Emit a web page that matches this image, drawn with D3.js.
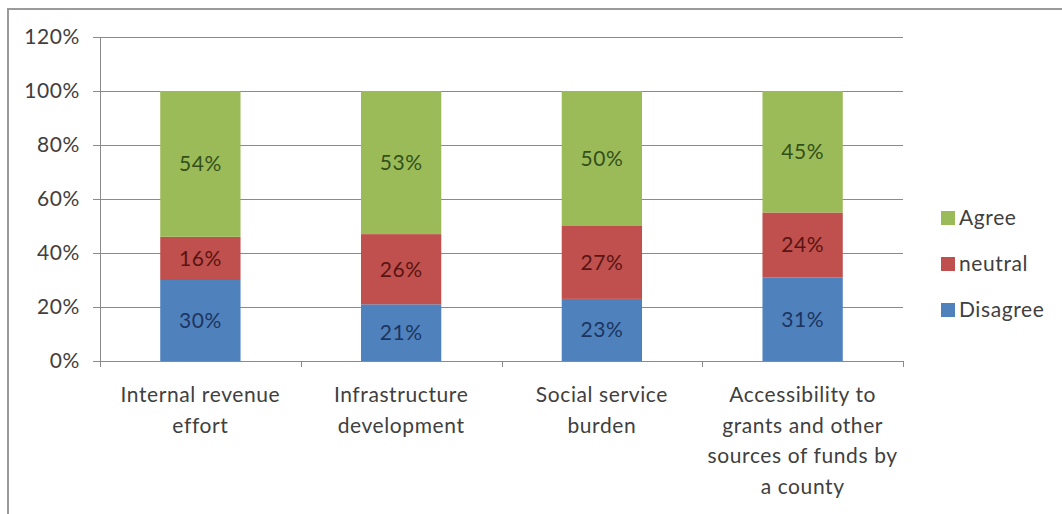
<!DOCTYPE html>
<html>
<head>
<meta charset="utf-8">
<script src="https://cdn.jsdelivr.net/npm/d3@7"></script>
<style>
  body { margin: 0; background: #fff; }
  svg { display: block; font-family: Lato, 'Open Sans', sans-serif; }
  text { letter-spacing: 0.6px; }
</style>
</head>
<body>
<svg id="chart" width="1062" height="514"></svg>
<script>
// categories and values (percent)
const categories = [
  ['Internal revenue', 'effort'],
  ['Infrastructure', 'development'],
  ['Social service', 'burden'],
  ['Accessibility to', 'grants and other', 'sources of funds by', 'a county']
];
const disagree = [30, 21, 23, 31];
const neutral = [16, 26, 27, 24];
const agree = [54, 53, 50, 45];
const seriesNames = ['Disagree', 'neutral', 'Agree'];
const yTicks = [0, 20, 40, 60, 80, 100, 120];

const colors = { Disagree: '#4f81bd', neutral: '#c0504d', Agree: '#9bbb59' };
const labelColors = { Disagree: '#1c3560', neutral: '#5a1412', Agree: '#34501a' };

const svg = d3.select('#chart');
const margin = { top: 37, left: 100, right: 159, bottom: 153 };
const width = 1062 - margin.left - margin.right;
const height = 514 - margin.top - margin.bottom;

// outer frame (right and bottom edges fall outside the picture)
svg.append('rect')
  .attr('x', 8).attr('y', 9)
  .attr('width', 1080).attr('height', 520)
  .attr('fill', 'none')
  .attr('stroke', '#9a9a9a')
  .attr('stroke-width', 2);

const g = svg.append('g').attr('transform', `translate(${margin.left},${margin.top})`);

const x = d3.scaleBand()
  .domain(d3.range(categories.length))
  .range([0, width])
  .paddingInner(0.6)
  .paddingOuter(0.3);

const bandStep = width / categories.length;

const y = d3.scaleLinear().domain([0, 120]).range([height, 0]);

// gridlines
g.append('g')
  .selectAll('line')
  .data(yTicks)
  .join('line')
  .attr('x1', -7).attr('x2', width)
  .attr('y1', d => Math.round(y(d)) + 0.5)
  .attr('y2', d => Math.round(y(d)) + 0.5)
  .attr('stroke', '#8a8a8a')
  .attr('stroke-width', 1.2);

// y axis line
g.append('line')
  .attr('x1', 0.5).attr('x2', 0.5)
  .attr('y1', 0).attr('y2', height)
  .attr('stroke', '#8a8a8a');

// y tick labels
g.append('g')
  .selectAll('text')
  .data(yTicks)
  .join('text')
  .attr('x', -20)
  .attr('y', d => y(d))
  .attr('dy', '0.35em')
  .attr('text-anchor', 'end')
  .attr('fill', '#404040')
  .attr('font-size', 21)
  .text(d => d + '%');

// x category ticks
g.append('g')
  .selectAll('line')
  .data(d3.range(categories.length + 1))
  .join('line')
  .attr('x1', d => Math.round(d * bandStep) + 0.5)
  .attr('x2', d => Math.round(d * bandStep) + 0.5)
  .attr('y1', height).attr('y2', height + 6)
  .attr('stroke', '#8a8a8a');

// stacked data
const table = categories.map((c, i) => ({ i, Disagree: disagree[i], neutral: neutral[i], Agree: agree[i] }));
const stacked = d3.stack().keys(seriesNames)(table);

const layers = g.selectAll('.layer')
  .data(stacked)
  .join('g')
  .attr('class', 'layer');

layers.selectAll('rect')
  .data(d => d.map(v => ({ key: d.key, v })))
  .join('rect')
  .attr('x', d => x(d.v.data.i))
  .attr('width', x.bandwidth())
  .attr('y', d => y(d.v[1]))
  .attr('height', d => y(d.v[0]) - y(d.v[1]))
  .attr('fill', d => colors[d.key]);

layers.selectAll('text')
  .data(d => d.map(v => ({ key: d.key, v })))
  .join('text')
  .attr('x', d => x(d.v.data.i) + x.bandwidth() / 2)
  .attr('y', d => y((d.v[0] + d.v[1]) / 2))
  .attr('dy', '0.35em')
  .attr('text-anchor', 'middle')
  .attr('fill', d => labelColors[d.key])
  .attr('font-size', 21)
  .text(d => (d.v[1] - d.v[0]) + '%');

// category labels
const catLabels = g.append('g')
  .selectAll('text')
  .data(categories)
  .join('text')
  .attr('x', (d, i) => x(i) + x.bandwidth() / 2)
  .attr('y', height + 34)
  .attr('text-anchor', 'middle')
  .attr('fill', '#404040')
  .attr('font-size', 21);

catLabels.selectAll('tspan')
  .data(d => d)
  .join('tspan')
  .attr('x', function() { return this.parentNode.getAttribute('x'); })
  .attr('dy', (d, i) => i === 0 ? '0.35em' : 30.5)
  .text(d => d);

// legend
const legendNames = ['Agree', 'neutral', 'Disagree'];
const legend = svg.append('g')
  .selectAll('g')
  .data(legendNames)
  .join('g')
  .attr('transform', (d, i) => `translate(941,${218 + i * 46})`);

legend.append('rect')
  .attr('x', 0).attr('y', -7)
  .attr('width', 14).attr('height', 14)
  .attr('fill', d => colors[d]);

legend.append('text')
  .attr('x', 18)
  .attr('dy', '0.35em')
  .attr('fill', '#404040')
  .attr('font-size', 21)
  .text(d => d);
</script>
</body>
</html>
